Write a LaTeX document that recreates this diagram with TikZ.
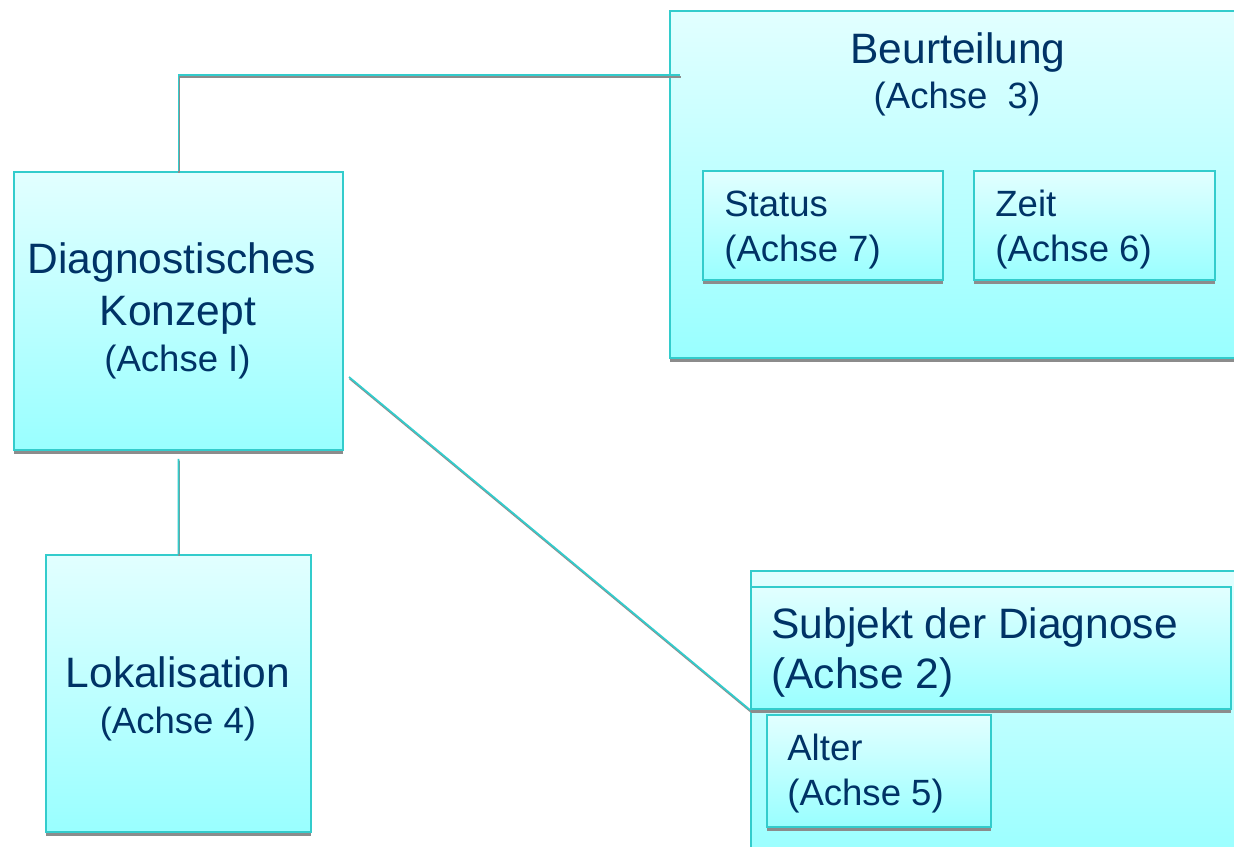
\documentclass[tikz,border=0pt]{standalone}
\usepackage{fontspec}
\setmainfont{Liberation Sans}
\usepackage{tikz}
\usetikzlibrary{calc,positioning,shadows}
\definecolor{boxline}{RGB}{51,204,204}
\definecolor{boxtop}{RGB}{226,255,255}
\definecolor{boxbottom}{RGB}{153,255,255}
\definecolor{textblue}{RGB}{0,51,102}
\definecolor{shadowgray}{RGB}{140,140,140}
\newcommand{\bigfont}{\fontsize{24.2}{29}\selectfont}
\newcommand{\smallfont}{\fontsize{20.8}{25}\selectfont}
\tikzset{%
	achsbox/.style   = {draw=boxline, line width=1.1pt, top color=boxtop, bottom color=boxbottom, anchor=north west, inner sep=0pt, drop shadow={shadow xshift=0pt, shadow yshift=-0.08cm, fill=shadowgray, opacity=1}},
	bigtext/.style   = {inner sep=0pt, text=textblue, font=\bigfont},
	smalltext/.style = {inner sep=0pt, text=textblue, font=\smallfont},
	link/.style      = {draw=boxline, line width=1pt, preaction={draw=shadowgray, line width=0.9pt, transform canvas={xshift=0.4pt,yshift=-1pt}}},
}

\begin{document}
\begin{tikzpicture}[x=0.02cm,y=-0.02cm]
		\useasboundingbox (0,0) rectangle (1234,847);
		\clip (0,0) rectangle (1234,847);
		
		% Beurteilung with Status and Zeit
		\node[achsbox, minimum width=11.7cm, minimum height=6.94cm] (beurteilung) at (669,10) {};
		\node[achsbox, minimum width=4.8cm, minimum height=2.18cm] (status) at (702,170) {};
		\node[achsbox, minimum width=4.82cm, minimum height=2.18cm] (zeit) at (973,170) {};
		\node[bigtext, anchor=base] (beurteilung-1) at (958,64) {Beurteilung};
		\node[smalltext, anchor=base] (beurteilung-2) at (957,109) {(Achse\ \ 3)};
		\node[bigtext, anchor=base west, font=\smallfont] (status-1) at (724,217) {Status};
		\node[smalltext, anchor=base west] (status-2) at (724,262) {(Achse 7)};
		\node[smalltext, anchor=base west] (zeit-1) at (995,217) {Zeit};
		\node[smalltext, anchor=base west] (zeit-2) at (995,262) {(Achse 6)};
		
		% Subjekt der Diagnose with Alter
		\node[achsbox, minimum width=10cm, minimum height=5.8cm] (subjekt) at (750,570) {};
		\node[achsbox, minimum width=9.6cm, minimum height=2.44cm] (subjekt-kopf) at (750,586) {};
		\node[achsbox, minimum width=4.48cm, minimum height=2.24cm] (alter) at (766,714) {};
		\node[bigtext, anchor=base west] (subjekt-1) at (771,638) {Subjekt der Diagnose};
		\node[bigtext, anchor=base west] (subjekt-2) at (771,688) {(Achse 2)};
		\node[smalltext, anchor=base west] (alter-1) at (787,760) {Alter};
		\node[smalltext, anchor=base west] (alter-2) at (787,805) {(Achse 5)};
		
		% Diagnostisches Konzept and Lokalisation
		\node[achsbox, minimum width=6.58cm, minimum height=5.56cm] (konzept) at (13,171) {};
		\node[achsbox, minimum width=5.3cm, minimum height=5.54cm] (lokal) at (45,554) {};
		\node[bigtext, anchor=base] (konzept-1) at (172,274) {Diagnostisches};
		\node[bigtext, anchor=base] (konzept-2) at (178,326) {Konzept};
		\node[smalltext, anchor=base] (konzept-3) at (177.5,372) {(Achse I)};
		\node[bigtext, anchor=base] (lokal-1) at (178,687) {Lokalisation};
		\node[smalltext, anchor=base] (lokal-2) at (178,733) {(Achse 4)};
		
		% connectors
		\coordinate (beurteilung-in) at (680,75);
		\coordinate (konzept-out) at (349,377);
		\draw[link] (konzept.north) |- (beurteilung-in);
		\draw[link, shorten <=0.16cm] (konzept.south) -- (lokal.north);
		\draw[link] (konzept-out) -- (subjekt-kopf.south west);
\end{tikzpicture}
\end{document}
